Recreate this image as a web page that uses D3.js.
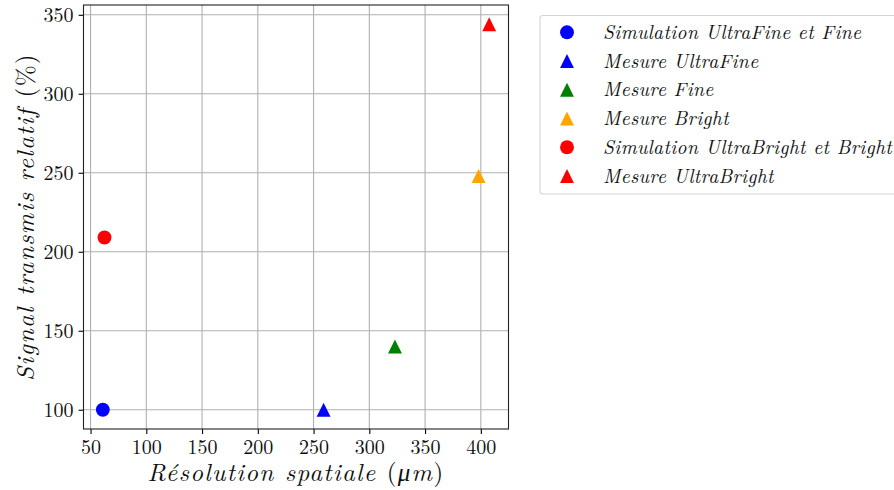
<!DOCTYPE html>
<html>
<head>
<meta charset="utf-8">
<script src="https://cdn.jsdelivr.net/npm/d3@7"></script>
<style>
  html, body { margin: 0; padding: 0; background: #fff; }
  svg { display: block; }
</style>
</head>
<body>
<svg id="chart" width="894" height="490"></svg>
<script>
// ---- data ----
const seriesNames = [
  "Simulation UltraFine et Fine",
  "Mesure UltraFine",
  "Mesure Fine",
  "Mesure Bright",
  "Simulation UltraBright et Bright",
  "Mesure UltraBright"
];
const seriesX = [61, 259, 323, 398, 62.5, 407.5];   // Résolution spatiale (µm)
const seriesY = [100, 100, 140, 248, 209, 344];      // Signal transmis relatif (%)
const seriesColor = ["blue", "blue", "green", "orange", "red", "red"];
const seriesShape = ["circle", "triangle", "triangle", "triangle", "circle", "triangle"];
const xTicks = [50, 100, 150, 200, 250, 300, 350, 400];
const yTicks = [100, 150, 200, 250, 300, 350];

// ---- layout ----
const FONT = "'Latin Modern Roman', 'Liberation Serif', serif";
const svg = d3.select("#chart");
const L = 83.5, R = 508.5, T = 5, B = 429;

function padded(ext) { const m = (ext[1] - ext[0]) * 0.05; return [ext[0] - m, ext[1] + m]; }
const x = d3.scaleLinear().domain(padded(d3.extent(seriesX))).range([L, R]);
const y = d3.scaleLinear().domain(padded(d3.extent(seriesY))).range([B, T]);

// grid
const grid = svg.append("g");
grid.selectAll("line.gx").data(xTicks).join("line")
  .attr("x1", d => x(d)).attr("x2", d => x(d)).attr("y1", T).attr("y2", B)
  .attr("stroke", "#b0b0b0").attr("stroke-width", 1.1);
grid.selectAll("line.gy").data(yTicks).join("line")
  .attr("y1", d => y(d)).attr("y2", d => y(d)).attr("x1", L).attr("x2", R)
  .attr("stroke", "#b0b0b0").attr("stroke-width", 1.1);

// axes
const xAxis = d3.axisBottom(x).tickValues(xTicks).tickSize(4.9).tickPadding(5);
const yAxis = d3.axisLeft(y).tickValues(yTicks).tickSize(4.9).tickPadding(5);
const gx = svg.append("g").attr("transform", `translate(0,${B})`).call(xAxis);
const gy = svg.append("g").attr("transform", `translate(${L},0)`).call(yAxis);
[gx, gy].forEach(g => {
  g.attr("font-family", FONT).attr("font-size", 20);
  g.select(".domain").remove();
  g.selectAll(".tick line").attr("stroke", "#000").attr("stroke-width", 1.1);
  g.selectAll(".tick text").attr("font-family", FONT).attr("font-size", 20).attr("fill", "#111");
});
gx.selectAll(".tick text").attr("dy", "0.76em");
gy.selectAll(".tick text").attr("dy", "0.33em");

// spines
svg.append("rect").attr("x", L).attr("y", T).attr("width", R - L).attr("height", B - T)
  .attr("fill", "none").attr("stroke", "#222").attr("stroke-width", 1.1);

// markers
const ms = 13.9;
function drawMarker(sel, shape, color) {
  if (shape === "circle") {
    sel.append("circle").attr("r", ms / 2).attr("fill", color);
  } else {
    const h = ms / 2;
    sel.append("path").attr("d", `M0,${-h}L${h},${h}L${-h},${h}Z`).attr("fill", color);
  }
}
seriesNames.forEach((n, i) => {
  const g = svg.append("g").attr("transform", `translate(${x(seriesX[i])},${y(seriesY[i])})`);
  drawMarker(g, seriesShape[i], seriesColor[i]);
});

// axis labels
const xl = svg.append("text").attr("x", (L + R) / 2).attr("y", 481)
  .attr("text-anchor", "middle").attr("font-family", FONT).attr("font-size", 25)
  .attr("fill", "#111").attr("letter-spacing", 1.3);
xl.append("tspan").attr("font-style", "italic").text("Résolution spatiale ");
xl.append("tspan").text("(");
xl.append("tspan").attr("font-style", "italic").text("μm");
xl.append("tspan").text(")");

const yl = svg.append("text").attr("transform", `translate(34,${(T + B) / 2}) rotate(-90)`)
  .attr("text-anchor", "middle").attr("font-family", FONT).attr("font-size", 25)
  .attr("fill", "#111").attr("letter-spacing", 1.4);
yl.append("tspan").attr("font-style", "italic").text("Signal transmis relatif ");
yl.append("tspan").text("(%)");

// legend
const lg = svg.append("g");
lg.append("rect").attr("x", 540).attr("y", 15.5).attr("width", 370).attr("height", 178.5)
  .attr("rx", 3).attr("fill", "#fff").attr("stroke", "#d5d5d5").attr("stroke-width", 1.1);
const rowY = d3.scalePoint().domain(d3.range(seriesNames.length)).range([32.3, 176]);
seriesNames.forEach((n, i) => {
  const g = lg.append("g").attr("transform", `translate(567,${rowY(i)})`);
  drawMarker(g, seriesShape[i], seriesColor[i]);
  lg.append("text").attr("x", 603).attr("y", rowY(i) + 6.5)
    .attr("font-family", FONT).attr("font-style", "italic").attr("font-size", 19.5)
    .attr("letter-spacing", 0.35).attr("fill", "#111").text(n);
});
</script>
</body>
</html>
